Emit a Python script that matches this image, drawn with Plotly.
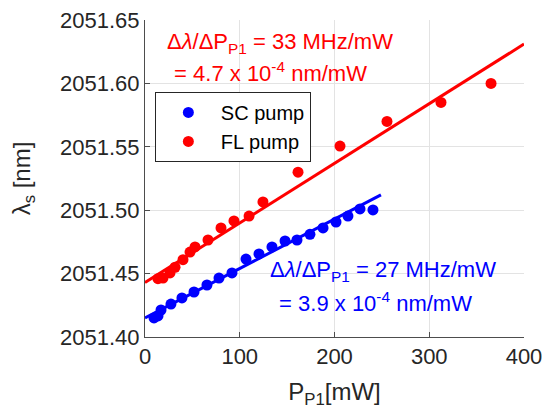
import numpy as np
import plotly.graph_objects as go

# SC pump data
sc_power = [9.5, 13.7, 16.9, 27.4, 39.0, 51.7, 65.4, 78.1, 91.8, 106.6, 120.3,
            134.0, 147.8, 160.4, 174.1, 187.9, 201.6, 214.2, 226.9, 240.6]
sc_lambda = [2051.415, 2051.4166, 2051.4213, 2051.426, 2051.4308, 2051.4355,
             2051.441, 2051.4465, 2051.4505, 2051.4615, 2051.4655, 2051.471,
             2051.4757, 2051.4765, 2051.481, 2051.486, 2051.4907, 2051.4954,
             2051.501, 2051.5002]

# FL pump data
fl_power = [13.7, 19.0, 26.4, 31.7, 40.1, 47.5, 52.8, 66.5, 80.2, 93.9, 109.8,
            124.5, 161.5, 205.8, 255.4, 312.4, 365.2]
fl_lambda = [2051.446, 2051.4465, 2051.4505, 2051.455, 2051.461, 2051.467,
             2051.471, 2051.4765, 2051.486, 2051.4915, 2051.4954, 2051.5065,
             2051.530, 2051.5506, 2051.570, 2051.585, 2051.600]

# Linear fits (slope nm/mW, intercept nm, fit range mW)
sc_slope, sc_intercept, sc_fit_range = 3.9e-4, 2051.415, [0, 249]
fl_slope, fl_intercept, fl_fit_range = 4.7e-4, 2051.443, [0, 400]

x_ticks = [0, 100, 200, 300, 400]
y_ticks = [2051.40, 2051.45, 2051.50, 2051.55, 2051.60, 2051.65]

BLUE = "#0000ff"
RED = "#ff0000"
TXT = "#262626"
FONT = "Liberation Sans, Arial, sans-serif"

sc_fx = np.array(sc_fit_range, dtype=float)
fl_fx = np.array(fl_fit_range, dtype=float)

fig = go.Figure()
fig.add_trace(go.Scatter(x=sc_fx, y=sc_intercept + sc_slope * sc_fx, mode="lines",
                         line=dict(color=BLUE, width=3), showlegend=False, hoverinfo="skip"))
fig.add_trace(go.Scatter(x=fl_fx, y=fl_intercept + fl_slope * fl_fx, mode="lines",
                         line=dict(color=RED, width=3), showlegend=False, hoverinfo="skip"))
fig.add_trace(go.Scatter(x=sc_power, y=sc_lambda, mode="markers", name="SC pump",
                         marker=dict(color=BLUE, size=11)))
fig.add_trace(go.Scatter(x=fl_power, y=fl_lambda, mode="markers", name="FL pump",
                         marker=dict(color=RED, size=11)))

ann_font = 22
fig.add_annotation(x=21, y=2051.632, xref="x", yref="y", xanchor="left", yanchor="middle",
                   text="Δ<i>λ</i>/ΔP<sub>P1</sub> = 33 MHz/mW", showarrow=False,
                   font=dict(color=RED, size=ann_font, family=FONT))
fig.add_annotation(x=22, y=2051.609, xref="x", yref="y", xanchor="left", yanchor="middle",
                   text=" = 4.7 x 10<sup>-4</sup> nm/mW", showarrow=False,
                   font=dict(color=RED, size=ann_font, family=FONT))
fig.add_annotation(x=130, y=2051.452, xref="x", yref="y", xanchor="left", yanchor="middle",
                   text="Δ<i>λ</i>/ΔP<sub>P1</sub> = 27 MHz/mW", showarrow=False,
                   font=dict(color=BLUE, size=ann_font, family=FONT))
fig.add_annotation(x=133, y=2051.428, xref="x", yref="y", xanchor="left", yanchor="middle",
                   text=" = 3.9 x 10<sup>-4</sup> nm/mW", showarrow=False,
                   font=dict(color=BLUE, size=ann_font, family=FONT))

fig.update_layout(
    width=546, height=414,
    margin=dict(l=145, r=22, t=20, b=77, autoexpand=False),
    paper_bgcolor="white", plot_bgcolor="white",
    font=dict(family=FONT, color=TXT, size=22),
    legend=dict(x=0.026, y=0.773, xanchor="left", yanchor="top",
                bgcolor="white", bordercolor=TXT, borderwidth=1, itemwidth=55,
                font=dict(size=20, color="black", family=FONT)),
    xaxis=dict(range=[0, 400], tickvals=x_ticks, showgrid=True, gridcolor="#e3e3e3",
               showline=True, linecolor="#4d4d4d", linewidth=1, ticks="inside",
               ticklen=5, tickcolor="#4d4d4d", zeroline=False, automargin=False,
               title=dict(text="P<sub>P1</sub>[mW]", font=dict(size=24), standoff=14)),
    yaxis=dict(range=[2051.40, 2051.65], tickvals=y_ticks, tickformat=".2f",
               showgrid=True, gridcolor="#e3e3e3",
               showline=True, linecolor="#4d4d4d", linewidth=1, ticks="inside",
               ticklen=5, tickcolor="#4d4d4d", zeroline=False, automargin=False,
               title=dict(text="λ<sub>s</sub> [nm]", font=dict(size=24), standoff=22)),
)

fig.write_html("out.html")
